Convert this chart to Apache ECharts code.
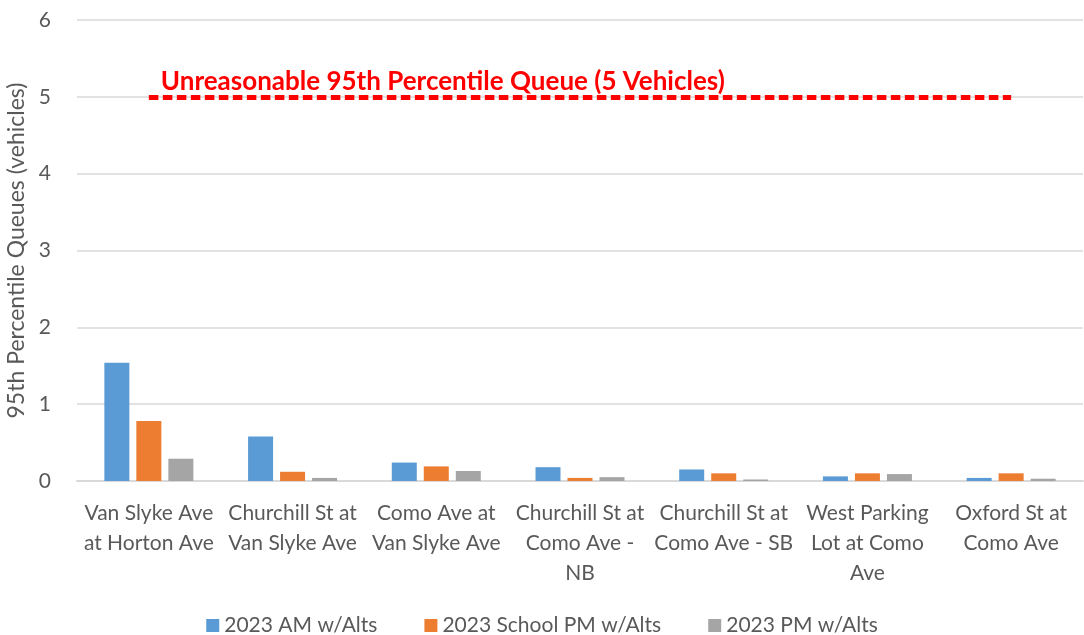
<!DOCTYPE html>
<html>
<head>
<meta charset="utf-8">
<script src="https://cdn.jsdelivr.net/npm/echarts@6/dist/echarts.min.js"></script>
<style>
html,body{margin:0;padding:0;background:#fff;}
#main{width:1084px;height:635px;}
</style>
</head>
<body>
<div id="main"></div>
<script>
// categories (intersections)
var categories = [
	"Van Slyke Ave\nat Horton Ave",
	"Churchill St at\nVan Slyke Ave",
	"Como Ave at\nVan Slyke Ave",
	"Churchill St at\nComo Ave -\nNB",
	"Churchill St at\nComo Ave - SB",
	"West Parking\nLot at Como\nAve",
	"Oxford St at\nComo Ave"
];
// 95th percentile queues (vehicles)
var amAlts = [1.54, 0.58, 0.24, 0.18, 0.15, 0.06, 0.04];
var schoolPmAlts = [0.78, 0.12, 0.19, 0.04, 0.10, 0.10, 0.10];
var pmAlts = [0.29, 0.04, 0.13, 0.05, 0.02, 0.09, 0.03];
var seriesNames = ["2023 AM w/Alts", "2023 School PM w/Alts", "2023 PM w/Alts"];
var limitValue = 5;
var limitText = "Unreasonable 95th Percentile Queue (5 Vehicles)";

var font = "Lato, sans-serif";
var dom = document.getElementById("main");
var myChart = echarts.init(dom);
var option = {
	animation: false,
	color: ['#5b9bd5', '#ed7d31', '#a5a5a5'],
	textStyle: { fontFamily: font },
	grid: {
		left: 77,
		right: 1,
		top: 20,
		bottom: 154,
		outerBoundsMode: 'none'
	},
	legend: {
		top: 610,
		left: 'center',
		itemWidth: 13,
		itemHeight: 13,
		itemGap: 47,
		itemStyle: { borderWidth: 0 },
		icon: 'rect',
		textStyle: { fontSize: 21, color: '#595959', fontFamily: font },
		data: seriesNames
	},
	xAxis: {
		type: 'category',
		data: categories,
		axisLine: { lineStyle: { color: '#d9d9d9', width: 2 } },
		axisTick: { show: false },
		axisLabel: {
			interval: 0,
			fontSize: 21,
			color: '#595959',
			lineHeight: 30,
			margin: 17,
			fontFamily: font
		}
	},
	yAxis: {
		type: 'value',
		min: 0,
		max: 6,
		interval: 1,
		name: '95th Percentile Queues (vehicles)',
		nameLocation: 'middle',
		nameGap: 48,
		nameTextStyle: { fontSize: 23, color: '#595959', fontFamily: font },
		axisLine: { show: false },
		axisTick: { show: false },
		axisLabel: { fontSize: 21, color: '#595959', margin: 26, fontFamily: font },
		splitLine: { lineStyle: { color: '#d9d9d9', width: 1.5 } }
	},
	series: [
		{
			name: seriesNames[0],
			type: 'bar',
			data: amAlts,
			barWidth: 25,
			barGap: '28%'
		},
		{
			name: seriesNames[1],
			type: 'bar',
			data: schoolPmAlts,
			barWidth: 25,
			markLine: {
				silent: true,
				symbol: 'none',
				lineStyle: { color: '#ff0000', width: 5, type: [9.5, 4.5] },
				label: {
					show: true,
					position: 'insideStartTop',
					formatter: limitText,
					color: '#ff0000',
					fontWeight: 'bold',
					fontSize: 26,
					distance: [12, 2],
					fontFamily: font
				},
				data: [[
					{ coord: [0, limitValue] },
					{ coord: [categories.length - 1, limitValue] }
				]]
			}
		},
		{
			name: seriesNames[2],
			type: 'bar',
			data: pmAlts,
			barWidth: 25
		}
	]
};
myChart.setOption(option);
</script>
</body>
</html>
